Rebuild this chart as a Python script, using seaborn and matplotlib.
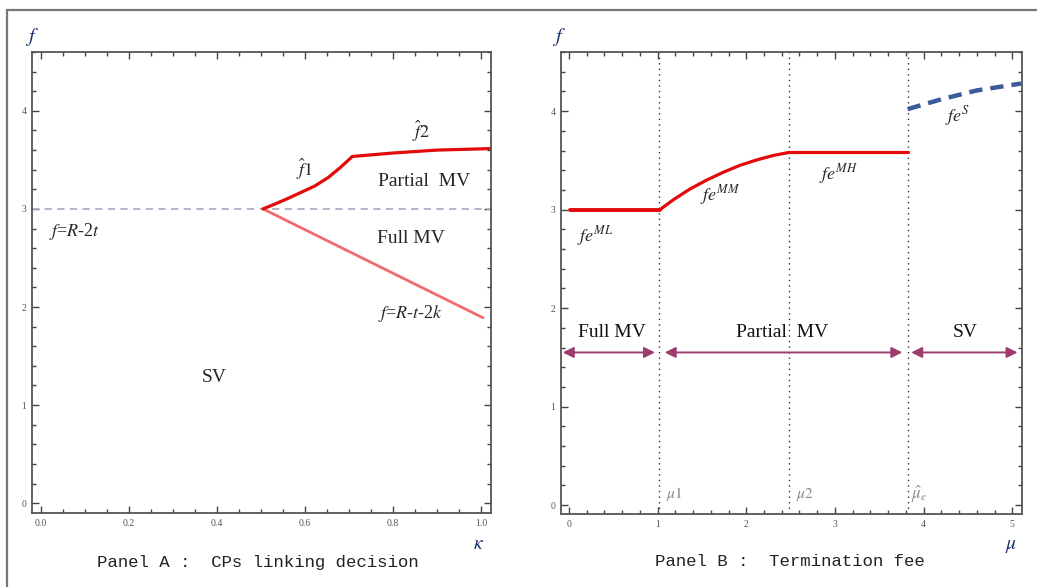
import numpy as np
import pandas as pd
import matplotlib
matplotlib.use("Agg")
import matplotlib.pyplot as plt
from matplotlib.lines import Line2D
from matplotlib.ticker import MultipleLocator
import seaborn as sns

# ---------------- data ----------------
# Panel A
a_base_x = [-0.02, 1.03]
a_base_y = [3.0, 3.0]
a_f1_x = [0.505, 0.532, 0.562, 0.592, 0.623, 0.653, 0.68, 0.708]
a_f1_y = [3.0, 3.05, 3.108, 3.17, 3.235, 3.32, 3.42, 3.535]
a_f2_x = [0.708, 0.80, 0.90, 1.02]
a_f2_y = [3.535, 3.57, 3.60, 3.615]
a_low_x = [0.505, 1.005]
a_low_y = [3.0, 1.89]

# Panel B
b_ml_x = [0.01, 1.027]
b_ml_y = [3.0, 3.0]
b_mm_x = [1.027, 1.177, 1.366, 1.554, 1.742, 1.93, 2.12, 2.306, 2.48]
b_mm_y = [3.0, 3.10, 3.21, 3.30, 3.38, 3.45, 3.505, 3.55, 3.58]
b_mh_x = [2.48, 3.82]
b_mh_y = [3.58, 3.58]
b_s_x = [3.82, 4.2, 4.6, 5.1]
b_s_y = [4.02, 4.12, 4.21, 4.28]
b_vlines = [1.02, 2.48, 3.82]
b_arrows = [(-0.07, 0.97), (1.08, 3.76), (3.86, 5.06)]
b_arrow_y = 1.55
b_region_labels = ["Full MV", "Partial  MV", "SV"]
b_region_x = [0.49, 2.4, 4.47]

a_xticks = [0.0, 0.2, 0.4, 0.6, 0.8, 1.0]
a_xticklabels = ["0.0", "0.2", "0.4", "0.6", "0.8", "1.0"]
yticks = [0, 1, 2, 3, 4]
b_xticks = [0, 1, 2, 3, 4, 5]

# ---------------- style ----------------
sns.set_theme(style="white")
plt.rcParams["font.family"] = ["Liberation Serif", "DejaVu Serif"]
plt.rcParams["mathtext.fontset"] = "stix"

W, H = 1037, 587
fig = plt.figure(figsize=(W / 100, H / 100), dpi=100)

axA = fig.add_axes([32 / W, 1 - 513 / H, (491 - 32) / W, (513 - 52) / H])
axB = fig.add_axes([561 / W, 1 - 514 / H, (1022 - 561) / W, (514 - 52) / H])

RED = "#e20a0a"
RED_L = "#f26a6a"
BLUE = "#3d5a9c"
PURPLE = "#9c3d6e"


def line(ax, x, y, **kw):
    df = pd.DataFrame({"x": x, "y": y})
    sns.lineplot(data=df, x="x", y="y", ax=ax, estimator=None, sort=False, **kw)


# Panel A
line(axA, a_base_x, a_base_y, color="#a9b1c9", lw=1.3, linestyle=(0, (4, 3)))
line(axA, a_low_x, a_low_y, color=RED_L, lw=2.0)
line(axA, a_f1_x, a_f1_y, color=RED, lw=2.3)
line(axA, a_f2_x, a_f2_y, color=RED, lw=2.3)

axA.set_xlim(-0.02, 1.023)
axA.set_ylim(-0.1, 4.6)

# Panel B
for v in b_vlines:
    axB.axvline(v, color="#333333", lw=1.0, linestyle=(0, (1, 3)))
line(axB, b_ml_x, b_ml_y, color=RED, lw=2.8)
line(axB, b_mm_x, b_mm_y, color=RED, lw=2.3)
line(axB, b_mh_x, b_mh_y, color=RED, lw=2.3)
line(axB, b_s_x, b_s_y, color=BLUE, lw=3.2, linestyle=(0, (3, 1.8)))

axB.set_xlim(-0.09, 5.11)
axB.set_ylim(-0.09, 4.6)

for (x0, x1) in b_arrows:
    axB.annotate("", xy=(x1, b_arrow_y), xytext=(x0, b_arrow_y),
                 arrowprops=dict(arrowstyle="<|-|>", color=PURPLE, lw=1.4,
                                 mutation_scale=16, shrinkA=0, shrinkB=0))
for lab, x in zip(b_region_labels, b_region_x):
    axB.text(x, 1.75, lab, ha="center", va="center", fontsize=14, color="#111111")

# ---------------- axes cosmetics ----------------
for ax in (axA, axB):
    ax.set_xlabel("")
    ax.set_ylabel("")
    for s in ax.spines.values():
        s.set_visible(True)
        s.set_color("#555555")
        s.set_linewidth(1.3)
    ax.set_yticks(yticks)
    ax.yaxis.set_minor_locator(MultipleLocator(0.2))
    ax.tick_params(which="both", direction="in", top=True, right=True,
                   bottom=True, left=True, color="#444444", width=1.0,
                   labelsize=7, labelcolor="#555555", pad=4)
    ax.tick_params(which="major", length=5)
    ax.tick_params(which="minor", length=3)
    ax.grid(False)

axA.set_xticks(a_xticks)
axA.set_xticklabels(a_xticklabels)
axA.xaxis.set_minor_locator(MultipleLocator(0.05))
axB.set_xticks(b_xticks)
axB.xaxis.set_minor_locator(MultipleLocator(0.2))

# ---------------- annotations ----------------
axA.text(0.077, 2.77, r"$f$=$R$-2$t$", fontsize=13, ha="center", va="center")
axA.text(0.87, 3.28, "Partial  MV", fontsize=14, ha="center", va="center")
axA.text(0.84, 2.70, "Full MV", fontsize=14, ha="center", va="center")
axA.text(0.84, 1.93, r"$f$=$R$-$t$-2$k$", fontsize=13, ha="center", va="center")
axA.text(0.395, 1.28, "SV", fontsize=14, ha="center", va="center")
axA.text(0.60, 3.40, r"$\hat{f}\mathit{1}$", fontsize=13, ha="center", va="center")
axA.text(0.865, 3.79, r"$\hat{f}\mathit{2}$", fontsize=13, ha="center", va="center")

axB.text(0.29, 2.73, r"$fe^{ML}$", fontsize=13, ha="center", va="center")
axB.text(1.70, 3.15, r"$fe^{MM}$", fontsize=13, ha="center", va="center")
axB.text(3.04, 3.36, r"$fe^{MH}$", fontsize=13, ha="center", va="center")
axB.text(4.38, 3.95, r"$fe^{S}$", fontsize=13, ha="center", va="center")
axB.text(1.10, 0.02, r"$\mu 1$", fontsize=11, color="#888888", ha="left", va="bottom")
axB.text(2.56, 0.02, r"$\mu 2$", fontsize=11, color="#888888", ha="left", va="bottom")
axB.text(3.86, 0.0, r"$\hat{\mu}_e$", fontsize=12, color="#888888", ha="left", va="bottom")

# axis names
axA.text(0.0, 1.032, r"$f$", transform=axA.transAxes, fontsize=15, color="#1b2f6e", ha="center", va="center")
axB.text(-0.004, 1.032, r"$f$", transform=axB.transAxes, fontsize=15, color="#1b2f6e", ha="center", va="center")
axA.text(0.972, -0.069, r"$\kappa$", transform=axA.transAxes, fontsize=14, color="#1b2f6e", ha="center", va="center")
axB.text(0.976, -0.071, r"$\mu$", transform=axB.transAxes, fontsize=14, color="#1b2f6e", ha="center", va="center")

fig.text(258 / W, 1 - 562 / H, "Panel A :  CPs linking decision", fontsize=12.5,
         family=["Liberation Mono", "DejaVu Sans Mono"], ha="center", va="center", color="#222222")
fig.text(790 / W, 1 - 562 / H, "Panel B :  Termination fee", fontsize=12.5,
         family=["Liberation Mono", "DejaVu Sans Mono"], ha="center", va="center", color="#222222")

# outer frame (top and left)
fig.add_artist(Line2D([7 / W, 1.0], [1 - 10 / H, 1 - 10 / H], transform=fig.transFigure, color="#777777", lw=1.6))
fig.add_artist(Line2D([7 / W, 7 / W], [0.0, 1 - 10 / H], transform=fig.transFigure, color="#777777", lw=1.6))

fig.savefig("out.png", dpi=100)
